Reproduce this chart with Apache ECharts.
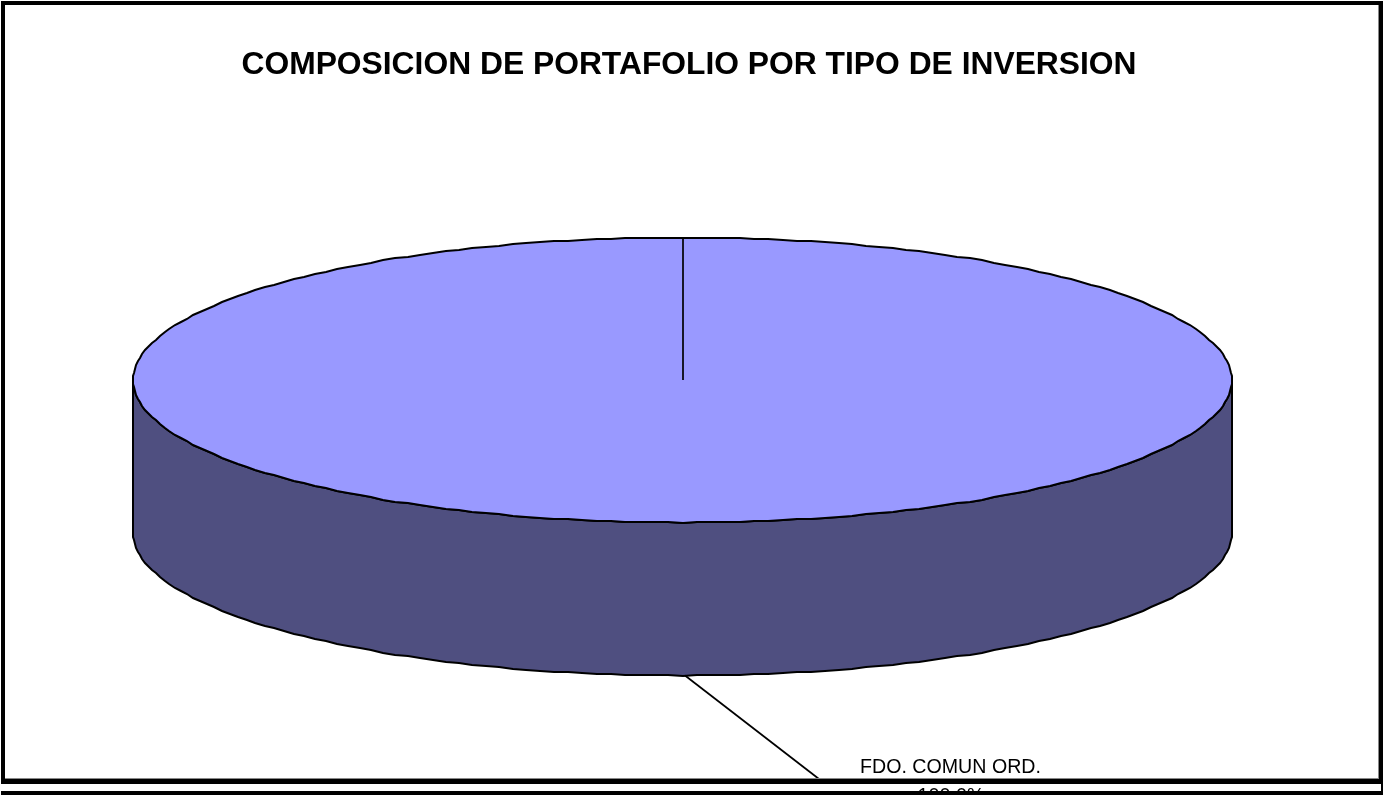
<!DOCTYPE html>
<html>
<head>
<meta charset="utf-8">
<title>COMPOSICION DE PORTAFOLIO</title>
<style>
    html, body { margin: 0; padding: 0; background: #fff; }
    #chart { width: 1383px; height: 795px; }
</style>
<script src="https://cdn.jsdelivr.net/npm/echarts@6/dist/echarts.min.js"></script>
</head>
<body>
<div id="chart"></div>
<script>
var titleText = 'COMPOSICION DE PORTAFOLIO POR TIPO DE INVERSION';
var categories = ['FDO. COMUN ORD.'];
var values = [100];

var total = values.reduce(function (a, b) { return a + b; }, 0);

// pie 3d, echarts has no elliptical pie so the slices go through a custom series
var cx = 682.5, cy = 380, rx = 549.5, ry = 142.5, depth = 153;

function rimPoint(angle, yOffset) {
    return [
        Math.round(cx + rx * Math.sin(angle)),
        Math.round(cy + yOffset - ry * Math.cos(angle))
    ];
}

function renderSlice(params, api) {
    var share = api.value(0) / total;
    var sweep = share * Math.PI * 2;
    var top = [], i, a;
    for (i = 0; i <= 240; i++) {
        a = sweep * i / 240;
        top.push(rimPoint(a, 0));
    }
    // the wall: front half of the rim, top edge then bottom edge
    var wall = [];
    for (i = 0; i <= 120; i++) {
        a = Math.PI / 2 + Math.PI * i / 120;
        wall.push(rimPoint(a, 0));
    }
    for (i = 120; i >= 0; i--) {
        a = Math.PI / 2 + Math.PI * i / 120;
        wall.push(rimPoint(a, depth));
    }
    var line = { stroke: '#000', lineWidth: 1.7 };
    return {
        type: 'group',
        children: [
            { type: 'polygon', shape: { points: wall }, style: { fill: '#4f4f80', stroke: '#000', lineWidth: 2 } },
            { type: 'polygon', shape: { points: top }, style: { fill: '#9999ff', stroke: '#000', lineWidth: 2 } },
            { type: 'line', shape: { x1: 683, y1: cy, x2: 683, y2: cy - ry }, style: line },
            { type: 'line', shape: { x1: 685, y1: cy + depth + ry, x2: 819, y2: 779 }, style: line },
            {
                type: 'text', x: 950.5, y: 778, scaleX: 0.934,
                style: {
                    text: categories[params.dataIndex], fill: '#000',
                    font: '21px "Liberation Sans"', align: 'center', verticalAlign: 'bottom'
                }
            },
            {
                type: 'text', x: 951, y: 807, scaleX: 0.94,
                style: {
                    text: (share * 100).toFixed(1) + '%', fill: '#000',
                    font: '21px "Liberation Sans"', align: 'center', verticalAlign: 'bottom'
                }
            }
        ]
    };
}

var myChart = echarts.init(document.getElementById('chart'), null, { renderer: 'canvas' });
myChart.setOption({
    backgroundColor: '#fff',
    animation: false,
    title: {
        text: titleText,
        left: 684,
        top: 44,
        textAlign: 'center',
        textStyle: { color: '#000', fontFamily: 'Liberation Sans', fontWeight: 'bold', fontSize: 31.8 }
    },
    series: [{
        type: 'custom',
        coordinateSystem: 'none',
        renderItem: renderSlice,
        data: values,
        silent: true
    }],
    // marco y doble raya de abajo, tapan el segundo renglon de la etiqueta
    graphic: [
        { type: 'rect', z: 100, shape: { x: 5, y: 778, width: 1374, height: 1 }, style: { fill: '#888' } },
        { type: 'rect', z: 100, shape: { x: 1378, y: 5, width: 1, height: 774 }, style: { fill: '#888' } },
        { type: 'rect', z: 100, shape: { x: 1, y: 1, width: 1382, height: 4 }, style: { fill: '#000' } },
        { type: 'rect', z: 100, shape: { x: 1, y: 1, width: 4, height: 783 }, style: { fill: '#000' } },
        { type: 'rect', z: 100, shape: { x: 1379, y: 1, width: 4, height: 783 }, style: { fill: '#000' } },
        { type: 'rect', z: 100, shape: { x: 1, y: 779, width: 1382, height: 5 }, style: { fill: '#000' } },
        { type: 'rect', z: 100, shape: { x: 1, y: 791, width: 1382, height: 4 }, style: { fill: '#000' } },
        { type: 'rect', z: 100, shape: { x: 1381, y: 784, width: 2, height: 11 }, style: { fill: '#000' } }
    ]
});
</script>
</body>
</html>
